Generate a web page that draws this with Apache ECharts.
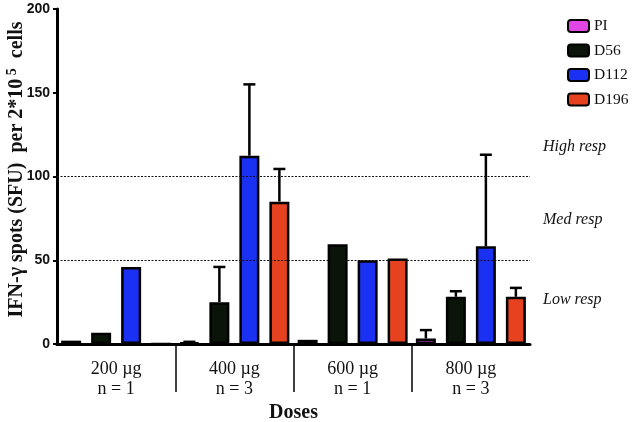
<!DOCTYPE html>
<html>
<head>
<meta charset="utf-8">
<script src="https://cdn.jsdelivr.net/npm/echarts@6/dist/echarts.min.js"></script>
<style>html,body{margin:0;padding:0;background:#fff}#c{width:634px;height:422px}</style>
</head>
<body>
<div id="c"></div>
<script>
const categories = ['200 µg\nn = 1', '400 µg\nn = 3', '600 µg\nn = 1', '800 µg\nn = 3'];
const seriesNames = ['PI', 'D56', 'D112', 'D196'];
const piValues   = [2, 0.8, 2.5, 3.3];
const d56Values  = [6.7, 25, 59.5, 28.2];
const d112Values = [46, 112.4, 50, 58.3];
const d196Values = [0, 85, 51, 28.2];
// upper end of error bars (null = no error bar)
const piUpper   = [null, 1.3, null, 8.3];
const d56Upper  = [null, 46, null, 31.5];
const d112Upper = [null, 155, null, 113];
const d196Upper = [null, 104.5, null, 33.5];
const yTicks = [0, 50, 100, 150, 200];
const thresholds = [100, 50];
const respLabels = ['High resp', 'Med resp', 'Low resp'];

const colors = ['#e045e6', '#0b1409', '#1a30f2', '#e6421f'];
const values = [piValues, d56Values, d112Values, d196Values];
const uppers = [piUpper, d56Upper, d112Upper, d196Upper];
const BAR_W = 20, BAR_GAP = 0.5;
const STEP = BAR_W * (1 + BAR_GAP);

const chart = echarts.init(document.getElementById('c'), null, {renderer: 'canvas'});
const serif = 'Liberation Serif';

const series = [];
values.forEach((vals, k) => {
  const s = {
    name: seriesNames[k], type: 'bar', xAxisIndex: 0, yAxisIndex: 0,
    data: vals, barWidth: BAR_W, barGap: (BAR_GAP * 100) + '%',
    itemStyle: {color: colors[k], borderColor: '#000', borderWidth: 2.5},
    emphasis: {disabled: true}, z: 2
  };
  if (k === 0) {
    s.markLine = {
      silent: true, symbol: 'none', label: {show: false},
      lineStyle: {color: '#111', type: [2, 1.5], width: 1},
      data: thresholds.map(t => ({yAxis: t}))
    };
  }
  series.push(s);
});
uppers.forEach((ups, k) => {
  const data = [];
  ups.forEach((u, i) => { if (u !== null) data.push([i, values[k][i], u]); });
  series.push({
    type: 'custom', xAxisIndex: 0, yAxisIndex: 0, z: 3, silent: true,
    data: data,
    renderItem: function (params, api) {
      const c = api.value(0);
      const p0 = api.coord([c, api.value(1)]);
      const p1 = api.coord([c, api.value(2)]);
      const x = p0[0] + (k - 1.5) * STEP;
      const st = {stroke: '#000', lineWidth: 2.5};
      return {type: 'group', children: [
        {type: 'line', shape: {x1: x, y1: p0[1], x2: x, y2: p1[1]}, style: st},
        {type: 'line', shape: {x1: x - 6, y1: p1[1], x2: x + 6, y2: p1[1]}, style: st}
      ]};
    }
  });
});

chart.setOption({
  animation: false,
  legend: {
    data: seriesNames, orient: 'vertical', left: 562, top: 13,
    icon: 'roundRect', itemWidth: 21, itemHeight: 12, itemGap: 8.5,
    textStyle: {fontFamily: serif, fontSize: 15.5, color: '#111'},
    selectedMode: false
  },
  grid: [
    {left: 57, right: 104, top: 9, bottom: 78, outerBoundsMode: 'none', containLabel: false},
    {left: 57, right: 104, top: 346, height: 46, outerBoundsMode: 'none', containLabel: false}
  ],
  xAxis: [
    {
      type: 'category', data: categories, gridIndex: 0,
      axisLine: {lineStyle: {color: '#000', width: 3}},
      axisTick: {show: false},
      axisLabel: {fontFamily: serif, fontSize: 18, color: '#111', lineHeight: 20, margin: 15},
      name: 'Doses', nameLocation: 'middle', nameGap: 59, nameMoveOverlap: false,
      nameTextStyle: {fontFamily: serif, fontSize: 20, fontWeight: 'bold', color: '#111'}
    },
    {
      type: 'category', data: categories, gridIndex: 1,
      axisLine: {show: false}, axisTick: {show: false}, axisLabel: {show: false},
      splitLine: {show: true, showMinLine: false, showMaxLine: false,
        lineStyle: {color: '#000', width: 1.5}}
    }
  ],
  yAxis: [
    {
      type: 'value', gridIndex: 0, min: 0, max: 200, interval: 50,
      axisLine: {show: true, lineStyle: {color: '#000', width: 3}},
      axisTick: {show: true, length: 4, lineStyle: {color: '#000', width: 2}},
      splitLine: {show: false},
      axisLabel: {fontFamily: 'Liberation Sans', fontSize: 14, fontWeight: 'bold', color: '#111', margin: 7},
      name: '{a|IFN-γ spots (SFU)  per 2*10}{s| 5}{a|  cells}', nameLocation: 'middle', nameGap: 28,
      nameMoveOverlap: false,
      nameTextStyle: {
        fontFamily: serif, fontSize: 20, fontWeight: 'bold', color: '#111', padding: [0, 0, 0, 14],
        rich: {
          a: {fontFamily: serif, fontSize: 20, fontWeight: 'bold', color: '#111'},
          s: {fontFamily: serif, fontSize: 14, fontWeight: 'bold', color: '#111', padding: [0, 0, 10, 0]}
        }
      }
    },
    {type: 'value', gridIndex: 1, show: false, min: 0, max: 1}
  ],
  graphic: [
    {type: 'text', left: 543, top: 139, style: {text: respLabels[0], font: 'italic 16px "Liberation Serif"', fill: '#111'}},
    {type: 'text', left: 543, top: 212, style: {text: respLabels[1], font: 'italic 16px "Liberation Serif"', fill: '#111'}},
    {type: 'text', left: 543, top: 292, style: {text: respLabels[2], font: 'italic 16px "Liberation Serif"', fill: '#111'}}
  ],
  series: series
});
</script>
</body>
</html>
